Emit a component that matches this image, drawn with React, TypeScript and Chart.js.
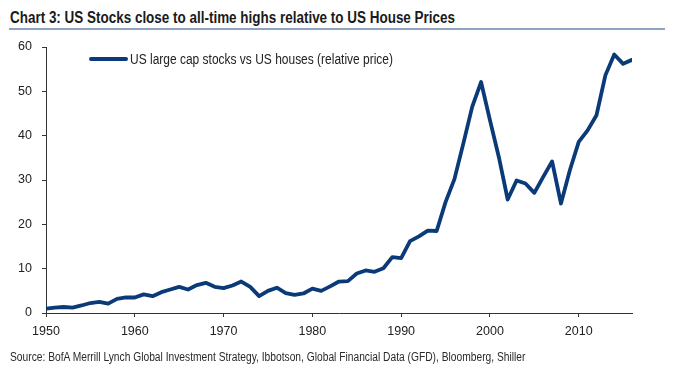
import React, { useEffect, useRef, useState } from "react";
import { Chart, registerables } from "chart.js";

Chart.register(...registerables);

const years = [
  1950, 1951, 1952, 1953, 1954, 1955, 1956, 1957, 1958, 1959,
  1960, 1961, 1962, 1963, 1964, 1965, 1966, 1967, 1968, 1969,
  1970, 1971, 1972, 1973, 1974, 1975, 1976, 1977, 1978, 1979,
  1980, 1981, 1982, 1983, 1984, 1985, 1986, 1987, 1988, 1989,
  1990, 1991, 1992, 1993, 1994, 1995, 1996, 1997, 1998, 1999,
  2000, 2001, 2002, 2003, 2004, 2005, 2006, 2007, 2008, 2009,
  2010, 2011, 2012, 2013, 2014, 2015, 2016,
];

const relativePrice = [
  1.0, 1.2, 1.35, 1.2, 1.7, 2.25, 2.5, 2.1, 3.2, 3.5,
  3.5, 4.2, 3.8, 4.7, 5.3, 5.9, 5.3, 6.3, 6.8, 5.9,
  5.6, 6.2, 7.1, 5.9, 3.8, 5.0, 5.7, 4.5, 4.1, 4.4,
  5.5, 5.0, 6.0, 7.1, 7.2, 8.9, 9.6, 9.3, 10.1, 12.6,
  12.4, 16.2, 17.3, 18.6, 18.5, 25.0, 30.2, 38.2, 46.5, 52.1,
  43.5, 35.2, 25.6, 29.9, 29.2, 27.1, 30.7, 34.2, 24.7, 32.2,
  38.6, 41.2, 44.6, 53.6, 58.3, 56.2, 57.1,
];

const xTickYears = [1950, 1960, 1970, 1980, 1990, 2000, 2010];
const yTickValues = [0, 10, 20, 30, 40, 50, 60];

const seriesLabel = "US large cap stocks vs US houses (relative price)";
const titleText = "Chart 3: US Stocks close to all-time highs relative to US House Prices";
const sourceText =
  "Source: BofA Merrill Lynch Global Investment Strategy, Ibbotson, Global Financial Data (GFD), Bloomberg, Shiller";

const FONT = '"Liberation Sans", Arial, sans-serif';
const LINE_COLOR = "#0b3a78";

function FitText(props: {
  text: string;
  width: number;
  left: number;
  top: number;
  size: number;
  weight?: number;
  color: string;
}) {
  const { text, width, left, top, size, weight = 400, color } = props;
  const [scale, setScale] = useState(1);
  useEffect(() => {
    const c = document.createElement("canvas");
    const ctx = c.getContext("2d");
    if (!ctx) return;
    ctx.font = `${weight} ${size}px ${FONT}`;
    const w = ctx.measureText(text).width;
    if (w > 0) setScale(width / w);
  }, [text, width, size, weight]);
  return (
    <div
      style={{
        position: "absolute",
        left,
        top,
        fontFamily: FONT,
        fontWeight: weight,
        fontSize: size,
        color,
        whiteSpace: "nowrap",
        lineHeight: `${size + 4}px`,
        transform: `scaleX(${scale})`,
        transformOrigin: "left center",
      }}
    >
      {text}
    </div>
  );
}

export default function App() {
  const canvasRef = useRef<HTMLCanvasElement | null>(null);

  useEffect(() => {
    const canvas = canvasRef.current;
    if (!canvas) return;
    const chart = new Chart(canvas, {
      type: "line",
      data: {
        datasets: [
          {
            label: seriesLabel,
            data: years.map((yr, i) => ({ x: yr, y: relativePrice[i] })),
            borderColor: LINE_COLOR,
            backgroundColor: LINE_COLOR,
            borderWidth: 3.8,
            pointRadius: 0,
            tension: 0,
            borderJoinStyle: "round",
            borderCapStyle: "round",
          },
        ],
      },
      options: {
        responsive: false,
        animation: false,
        layout: { padding: { left: 0, right: 42, top: 47, bottom: 26 } },
        plugins: {
          legend: { display: false },
          tooltip: { enabled: false },
          title: { display: false },
        },
        scales: {
          x: {
            type: "linear",
            min: 1950,
            max: 2016,
            afterBuildTicks: (scale: any) => {
              scale.ticks = xTickYears.map((v) => ({ value: v }));
            },
            afterFit: (scale: any) => {
              scale.height = 30;
            },
            grid: {
              drawOnChartArea: false,
              drawTicks: true,
              tickLength: 4,
              color: "#333",
            },
            border: { color: "#333", width: 1 },
            ticks: {
              autoSkip: false,
              maxRotation: 0,
              padding: 7,
              color: "#222",
              font: { family: FONT, size: 12.5 },
              callback: (v: any) => String(v),
            },
          },
          y: {
            min: 0,
            max: 60,
            afterBuildTicks: (scale: any) => {
              scale.ticks = yTickValues.map((v) => ({ value: v }));
            },
            afterFit: (scale: any) => {
              scale.width = 46;
            },
            grid: {
              drawOnChartArea: false,
              drawTicks: true,
              tickLength: 4,
              color: "#333",
            },
            border: { color: "#333", width: 1 },
            ticks: {
              padding: 10,
              color: "#222",
              font: { family: FONT, size: 12.5 },
              callback: (v: any) => String(v),
            },
          },
        },
      },
    });
    return () => chart.destroy();
  }, []);

  return (
    <div
      style={{
        position: "absolute",
        left: 0,
        top: 0,
        width: 674,
        height: 369,
        background: "#fff",
        overflow: "hidden",
      }}
    >
      <FitText text={titleText} width={445} left={10} top={8} size={16} weight={700} color="#1a1a1a" />
      <div
        style={{
          position: "absolute",
          left: 9,
          top: 28,
          width: 656,
          height: 2,
          background: "#8ea3c2",
        }}
      />
      <canvas
        ref={canvasRef}
        width={674}
        height={369}
        style={{ position: "absolute", left: 0, top: 0, width: 674, height: 369 }}
      />
      <div
        style={{
          position: "absolute",
          left: 89,
          top: 57,
          width: 39,
          height: 4,
          borderRadius: 2,
          background: LINE_COLOR,
        }}
      />
      <FitText text={seriesLabel} width={263} left={130} top={50} size={14} color="#222" />
      <FitText text={sourceText} width={516} left={10} top={349} size={12} color="#2a2a2a" />
    </div>
  );
}
